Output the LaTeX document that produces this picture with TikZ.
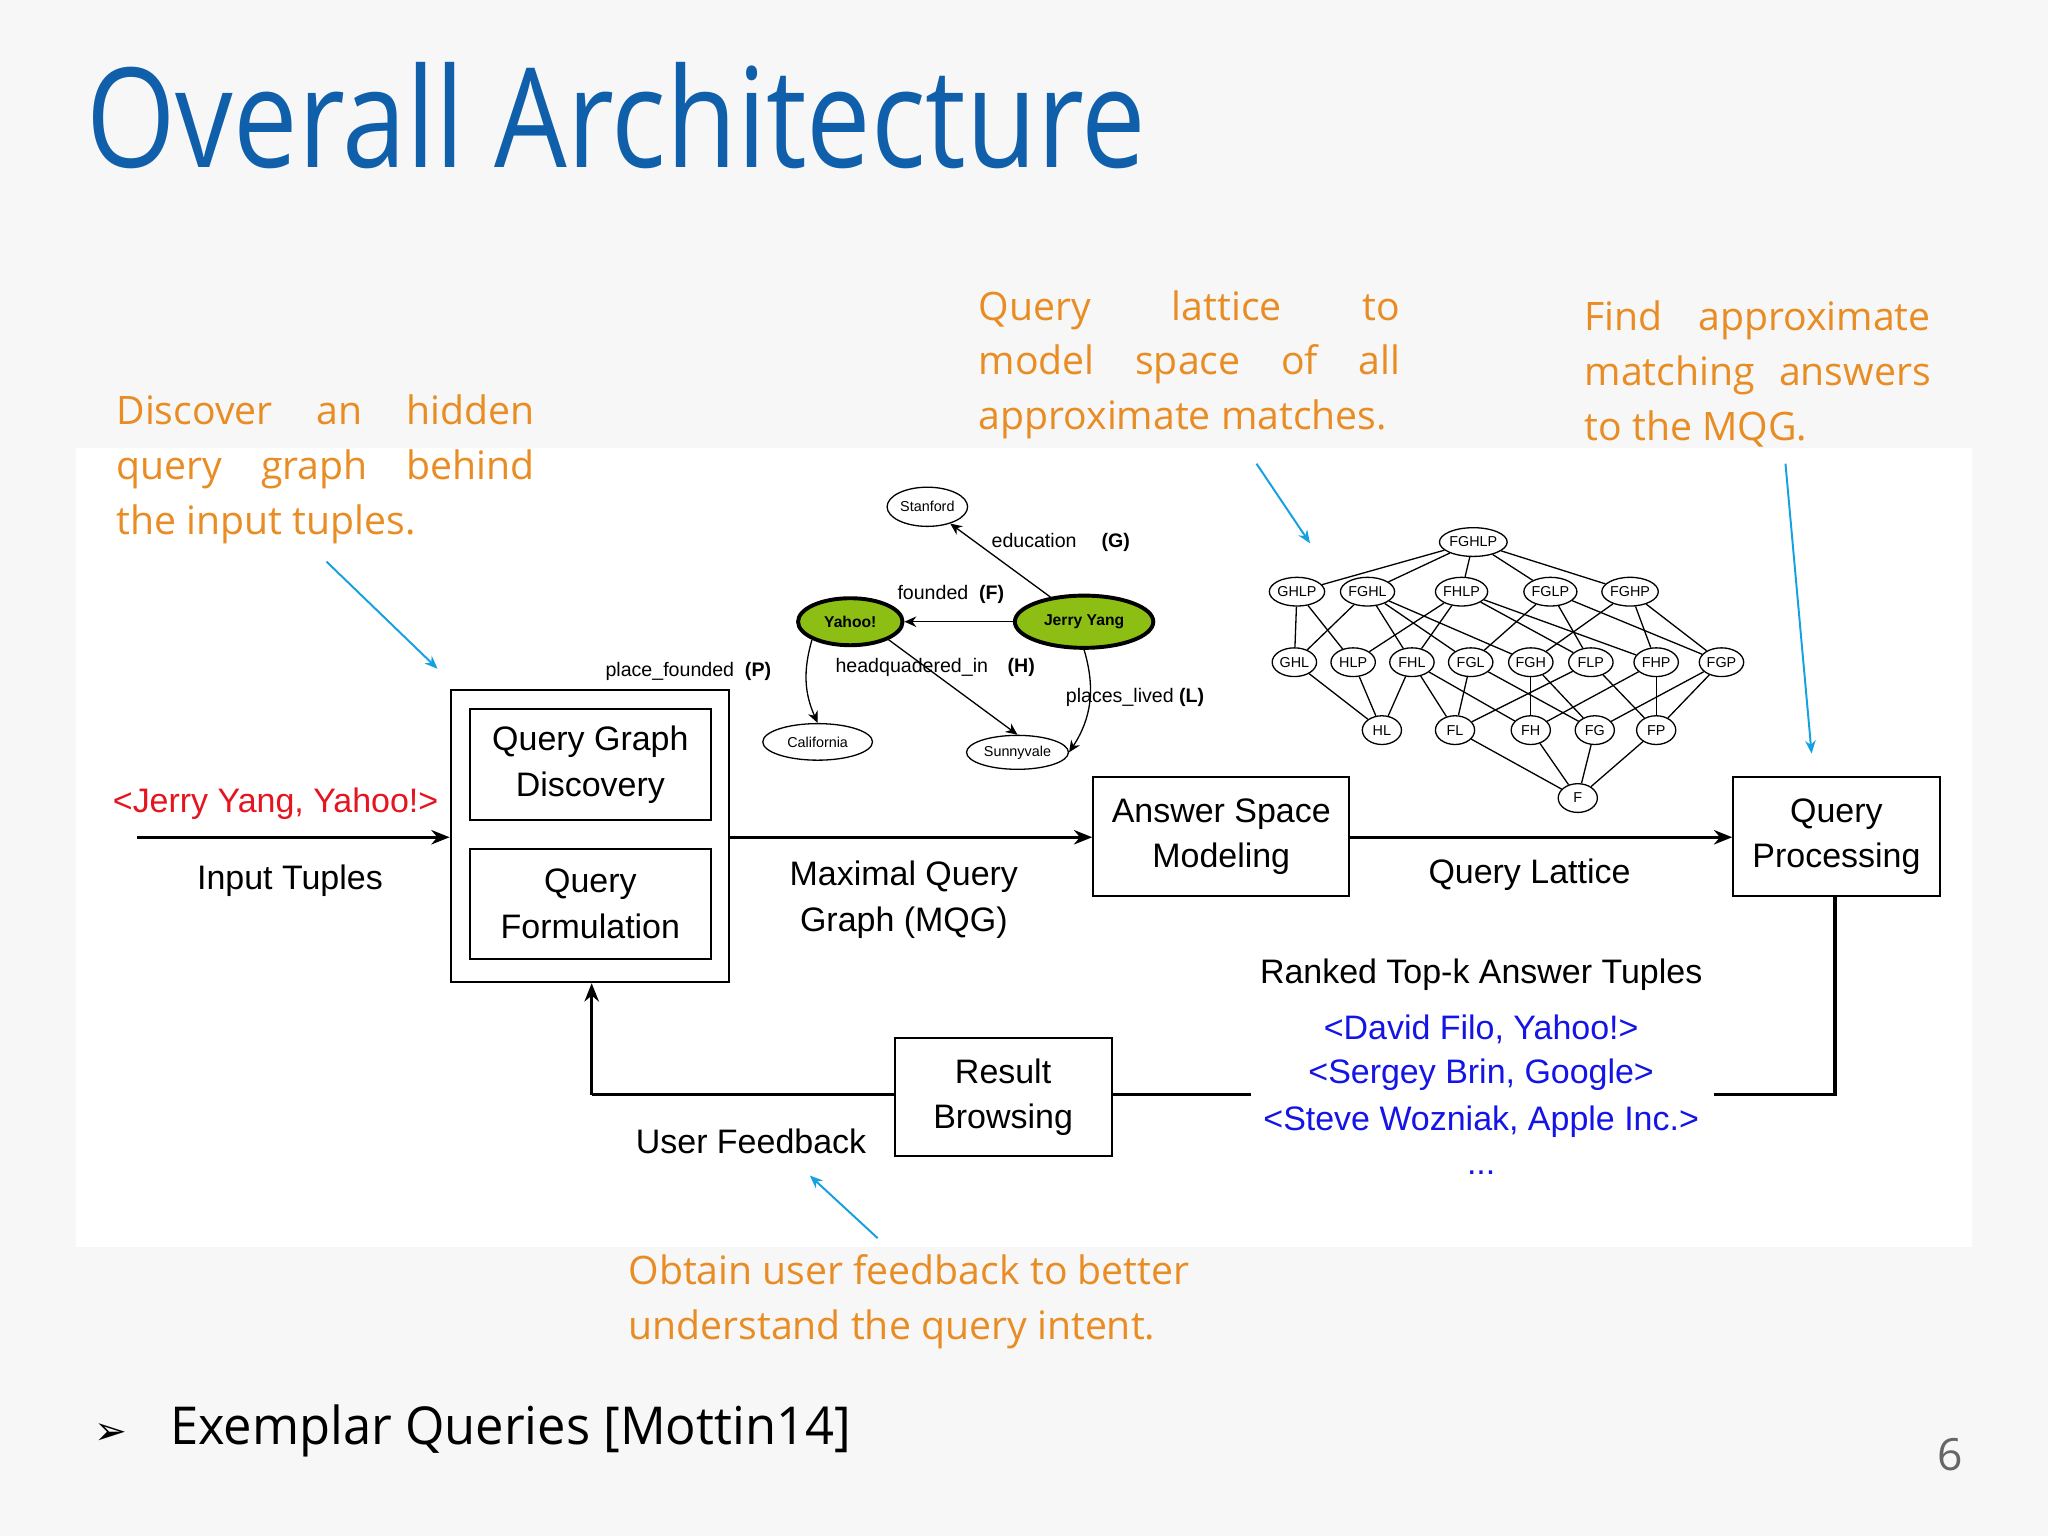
\documentclass[tikz,border=0pt]{standalone}
\usepackage{fontspec}
\setmainfont{Liberation Sans}
\newfontfamily\seg{Open Sans}
\newfontfamily\dej{DejaVu Sans}
\usetikzlibrary{shapes.geometric,arrows.meta}
\definecolor{ttl}{RGB}{15,95,170}
\definecolor{org}{RGB}{232,140,35}
\definecolor{arr}{RGB}{20,160,225}
\definecolor{tblue}{RGB}{20,20,230}
\definecolor{tred}{RGB}{230,20,30}
\definecolor{grn}{RGB}{140,190,20}
\newcommand{\jl}[2]{\makebox[#1][s]{#2}\\}
\begin{document}
\begin{tikzpicture}[x=1pt,y=-1pt,
 box/.style={draw,line width=1.5pt,inner sep=0pt},
 flow/.style={line width=2.6pt,-{Stealth[length=14pt,width=11pt]}},
 ln/.style={line width=2.6pt},
 txt/.style={font=\fontsize{26}{35}\selectfont,align=center},
 ann/.style={font=\seg\fontsize{30}{42}\selectfont,text=org,align=left,inner sep=0pt,anchor=north west},
 barr/.style={arr,line width=1.5pt,-{Stealth[length=10pt,width=8pt]}},
 lat/.style={draw,ellipse,line width=1pt,minimum width=34pt,minimum height=22pt,inner sep=0pt,font=\fontsize{11}{11}\selectfont},
 gn/.style={draw,ellipse,line width=1pt,inner sep=1pt,font=\fontsize{11}{11}\selectfont},
 yn/.style={draw,ellipse,line width=3pt,fill=grn,inner sep=1pt,font=\bfseries\fontsize{12}{12}\selectfont},
 el/.style={font=\fontsize{15}{15}\selectfont,inner sep=0pt},
 ga/.style={line width=1pt,-{Stealth[length=9pt,width=8pt]}}]
\useasboundingbox (0,0) rectangle (1568,1176);
\fill[black!3] (0,0) rectangle (1568,1176);
\fill[white] (58,343) rectangle (1510,955);
\node[anchor=base west,text=ttl,font=\seg\fontsize{106}{106}\selectfont,inner sep=0pt] (title) at (66,128) {\scalebox{0.83}[1]{Overall Architecture}};
% annotations
\node[ann] (a1) at (89,302) {\jl{320pt}{Discover an hidden}\jl{320pt}{query graph behind}the input tuples.};
\node[ann] (a2) at (749,222) {\jl{323pt}{Query lattice to}\jl{323pt}{model space of all}approximate matches.};
\node[ann] (a3) at (1213,230) {\jl{265pt}{Find approximate}\jl{265pt}{matching answers}to the MQG.};
\node[ann] (a4) at (481,960) {Obtain user feedback to better\\understand the query intent.};
\coordinate (s1) at (250,430); \coordinate (e1) at (335,512);
\coordinate (s2) at (962,355); \coordinate (e2) at (1003,416);
\coordinate (s3) at (1367,355); \coordinate (e3) at (1387,577);
\coordinate (s4) at (672,948); \coordinate (e4) at (620,900);
\draw[barr] (s1)--(e1); \draw[barr] (s2)--(e2); \draw[barr] (s3)--(e3); \draw[barr] (s4)--(e4);
% boxes
\node[box,minimum width=213pt,minimum height=224pt] (outer) at (451.5,640) {};
\node[box,txt,minimum width=184pt,minimum height=85pt] (qgd) at (452,585.5) {Query Graph\\Discovery};
\node[box,txt,minimum width=184pt,minimum height=84pt] (qf) at (452,692) {Query\\Formulation};
\node[box,txt,minimum width=196pt,minimum height=91pt] (asm) at (935,640.5) {Answer Space\\Modeling};
\node[box,txt,minimum width=158pt,minimum height=91pt] (qp) at (1406,640.5) {Query\\Processing};
\node[box,txt,minimum width=166pt,minimum height=90pt] (rb) at (768,840) {Result\\Browsing};
\coordinate (in) at (105,641);
\draw[flow] (in) -- (outer.west|-in);
\draw[flow] (outer.east|-in) -- (asm.west|-in);
\draw[flow] (asm.east|-in) -- (qp.west|-in);
\coordinate (c1) at (1405,838); \coordinate (g1) at (1312,838); \coordinate (g2) at (958,838); \coordinate (c2) at (453,838);
\draw[ln] (qp.south-|c1) -- (c1) -- (g1);
\draw[ln] (g2) -- (rb.east|-g2);
\draw[ln] (rb.west|-c2) -- (c2);
\draw[flow] (c2) -- (outer.south-|c2);
% texts
\node[txt,text=tred] (jy) at (211,615) {<Jerry Yang, Yahoo!>};
\node[txt] (it) at (222,674) {Input Tuples};
\node[txt] (mqg) at (692,689) {Maximal Query\\Graph (MQG)};
\node[txt] (ql) at (1171,670) {Query Lattice};
\node[txt] (rk) at (1134,746) {Ranked Top-k Answer Tuples};
\node[txt,text=tblue] (r1) at (1134,788) {<David Filo, Yahoo!>};
\node[txt,text=tblue] (r2) at (1134,823) {<Sergey Brin, Google>};
\node[txt,text=tblue] (r3) at (1134,859) {<Steve Wozniak, Apple Inc.>};
\node[txt,text=tblue] (r4) at (1134,898) {...};
\node[txt] (uf) at (575,874) {User Feedback};
% query graph
\node[gn,minimum width=56pt,minimum height=30pt] (st) at (710,388) {Stanford};
\node[yn,minimum width=80pt,minimum height=36pt] (ya) at (651,476) {Yahoo!};
\node[yn,minimum width=106pt,minimum height=40pt] (je) at (830,476) {Jerry Yang};
\node[gn,minimum width=84pt,minimum height=28pt] (ca) at (626,568) {California};
\node[gn,minimum width=78pt,minimum height=26pt] (su) at (779,576) {Sunnyvale};
\draw[ga] (je) -- (st);
\draw[ga] (je) -- (ya);
\draw[ga] (ya.south west) to[bend right=20] (ca.north);
\draw[ga] (ya.south east) -- (su.north);
\draw[ga] (je.south) to[bend left=25] (su.east);
\node[el,anchor=west] (l1) at (759,415) {education\quad\ \textbf{(G)}};
\node[el] (l2) at (728,455) {founded\ \ \textbf{(F)}};
\node[el] (l3) at (527,514) {place\_founded\ \ \textbf{(P)}};
\node[el] (l4) at (716,511) {headquadered\_in\quad\textbf{(H)}};
\node[el] (l5) at (869,534) {places\_lived \textbf{(L)}};
% lattice
\node[lat,minimum width=46pt] (FGHLP) at (1128,415) {FGHLP};
\foreach \n/\x in {GHLP/993,FGHL/1047,FHLP/1119,FGLP/1187,FGHP/1248}{\node[lat,minimum width=40pt] (\n) at (\x,453) {\n};}
\foreach \n/\x in {GHL/991,HLP/1036,FHL/1081,FGL/1126,FGH/1172,FLP/1218,FHP/1268,FGP/1318}{\node[lat] (\n) at (\x,507) {\n};}
\foreach \n/\x in {HL/1058,FL/1114,FH/1172,FG/1221,FP/1268}{\node[lat,minimum width=30pt] (\n) at (\x,559) {\n};}
\node[lat,minimum width=30pt] (F) at (1208,611) {F};
\foreach \a/\b in {FGHLP/GHLP,FGHLP/FGHL,FGHLP/FHLP,FGHLP/FGLP,FGHLP/FGHP,
 GHLP/GHL,GHLP/HLP,FGHL/GHL,FGHL/FHL,FGHL/FGL,FGHL/FGH,FHLP/HLP,FHLP/FHL,FHLP/FLP,FHLP/FHP,
 FGLP/FGL,FGLP/FLP,FGLP/FGP,FGHP/FGH,FGHP/FHP,FGHP/FGP,
 GHL/HL,HLP/HL,FHL/HL,FHL/FL,FHL/FH,FGL/FL,FGL/FG,FGH/FH,FGH/FG,FLP/FL,FLP/FP,FHP/FH,FHP/FP,FGP/FG,FGP/FP,
 FL/F,FH/F,FG/F,FP/F}{\draw[line width=1pt] (\a) -- (\b);}
% footer
\node[anchor=base west,font=\dej\fontsize{30}{30}\selectfont,inner sep=0pt] (bul) at (72,1106) {➢};
\node[anchor=base west,font=\seg\fontsize{40}{40}\selectfont,inner sep=0pt] (ex) at (130,1106) {\scalebox{0.97}[1]{Exemplar Queries [Mottin14]}};
\node[anchor=base,font=\seg\fontsize{34}{34}\selectfont,text=black!60,inner sep=0pt] (pg) at (1493,1126) {6};
\end{tikzpicture}
\end{document}
